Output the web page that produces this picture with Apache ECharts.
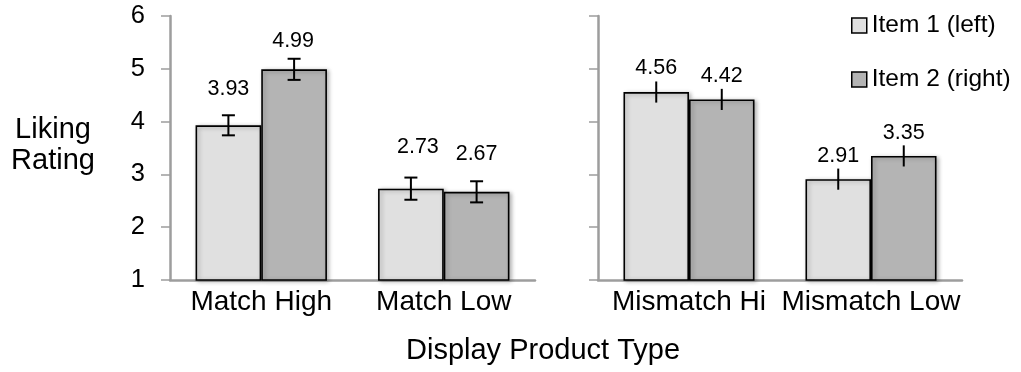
<!DOCTYPE html>
<html>
<head>
<meta charset="utf-8">
<script src="https://cdn.jsdelivr.net/npm/echarts@6/dist/echarts.min.js"></script>
<style>
  html, body { margin: 0; padding: 0; background: #fff; }
  #chart { width: 1021px; height: 372px; }
</style>
</head>
<body>
<div id="chart"></div>
<script>
// Liking ratings by display product type, two items per condition
const leftCategories = ['Match High', 'Match Low'];
const rightCategories = ['Mismatch Hi', 'Mismatch Low'];
const seriesNames = ['Item 1 (left)', 'Item 2 (right)'];

const item1Left = [3.93, 2.73];
const item2Left = [4.99, 2.67];
const item1Right = [4.56, 2.91];
const item2Right = [4.42, 3.35];

// standard errors (± around each mean)
const item1LeftErr = [0.19, 0.21];
const item2LeftErr = [0.20, 0.20];
const item1RightErr = [0.20, 0.20];
const item2RightErr = [0.20, 0.20];

const yMin = 1, yMax = 6, yStep = 1;

// label placement: pixels above the top of each error bar, and horizontal nudge
const labelLift = {
  item1Left: [26, 30], item2Left: [18, 27],
  item1Right: [13, 13], item2Right: [13, 12]
};
const labelNudge = {
  item1Left: [0, 7], item2Left: [-1, 0],
  item1Right: [0, 0], item2Right: [0, 0]
};

const FONT = '"Liberation Sans", Arial, Helvetica, sans-serif';
const AXIS_GRAY = '#9d9d9d';
const LIGHT = '#e0e0e0';
const DARK = '#b4b4b4';
const BAR_FRAC = 0.36;

const chart = echarts.init(document.getElementById('chart'), null, { renderer: 'canvas' });

function barSeries(name, values, panel, color) {
  return {
    name: name,
    type: 'bar',
    xAxisIndex: panel,
    yAxisIndex: panel,
    data: values,
    barWidth: (BAR_FRAC * 100) + '%',
    barGap: '0%',
    itemStyle: {
      color: color,
      borderColor: '#000',
      borderWidth: 1.6,
      shadowColor: 'rgba(0,0,0,0.28)',
      shadowBlur: 4,
      shadowOffsetX: 2,
      shadowOffsetY: 1
    },
    emphasis: { disabled: true },
    animation: false
  };
}

function errorSeries(values, errs, panel, side, key, caps) {
  return {
    type: 'custom',
    xAxisIndex: panel,
    yAxisIndex: panel,
    z: 10,
    silent: true,
    animation: false,
    data: values.map((v, i) => [i, v, errs[i]]),
    renderItem: function (params, api) {
      const idx = api.value(0);
      const val = api.value(1);
      const err = api.value(2);
      const band = api.size([1, 0])[0];
      const barW = band * BAR_FRAC;
      const cx = api.coord([idx, val])[0] + side * barW / 2;
      const top = api.coord([idx, val + err])[1];
      const bot = api.coord([idx, val - err])[1];
      const lineStyle = { stroke: '#000', lineWidth: 2 };
      const children = [
        { type: 'line', shape: { x1: cx, y1: top, x2: cx, y2: bot }, style: lineStyle }
      ];
      if (caps) {
        const cw = 6.5;
        children.push({ type: 'line', shape: { x1: cx - cw, y1: top, x2: cx + cw, y2: top }, style: lineStyle });
        children.push({ type: 'line', shape: { x1: cx - cw, y1: bot, x2: cx + cw, y2: bot }, style: lineStyle });
      }
      children.push({
        type: 'text',
        x: cx + labelNudge[key][params.dataIndex],
        y: top - labelLift[key][params.dataIndex],
        style: {
          text: val.toFixed(2),
          align: 'center',
          verticalAlign: 'middle',
          fontSize: 21.5,
          fontFamily: FONT,
          fill: '#000'
        }
      });
      return { type: 'group', children: children };
    }
  };
}

function xAxisFor(panel, cats) {
  return {
    gridIndex: panel,
    type: 'category',
    data: cats,
    axisTick: { show: false },
    axisLine: { onZero: false, lineStyle: { color: AXIS_GRAY, width: 2.5 } },
    axisLabel: { interval: 0, color: '#000', fontSize: 28, fontFamily: FONT, margin: 8 }
  };
}

function yAxisFor(panel, showLabels) {
  return {
    gridIndex: panel,
    type: 'value',
    min: yMin,
    max: yMax,
    interval: yStep,
    splitLine: { show: false },
    axisLine: { show: true, lineStyle: { color: AXIS_GRAY, width: 2.5 } },
    axisTick: { show: true, length: 9, lineStyle: { color: AXIS_GRAY, width: 1.5 } },
    axisLabel: {
      show: showLabels, color: '#000', fontSize: 25.5, fontFamily: FONT,
      margin: 25, padding: [9, 0, 0, 0]
    }
  };
}

const option = {
  backgroundColor: '#fff',
  animation: false,
  grid: [
    { left: 170, right: 486, top: 16, bottom: 92 },
    { left: 598, right: 59, top: 16, bottom: 92 }
  ],
  xAxis: [xAxisFor(0, leftCategories), xAxisFor(1, rightCategories)],
  yAxis: [yAxisFor(0, true), yAxisFor(1, false)],
  legend: {
    orient: 'vertical',
    left: 851,
    top: 13,
    padding: 0,
    icon: 'rect',
    itemWidth: 15,
    itemHeight: 15,
    itemGap: 29,
    selectedMode: false,
    textStyle: { fontSize: 24.5, fontFamily: FONT, color: '#000' },
    data: [
      { name: seriesNames[0], itemStyle: { color: LIGHT, borderColor: '#000', borderWidth: 1.5, shadowBlur: 0, shadowOffsetX: 0, shadowOffsetY: 0 } },
      { name: seriesNames[1], itemStyle: { color: DARK, borderColor: '#000', borderWidth: 1.5, shadowBlur: 0, shadowOffsetX: 0, shadowOffsetY: 0 } }
    ]
  },
  graphic: [
    {
      type: 'text', x: 53, y: 145,
      style: {
        text: 'Liking\nRating', align: 'center', verticalAlign: 'middle',
        fontSize: 29, lineHeight: 31, fontFamily: FONT, fill: '#000'
      }
    },
    {
      type: 'text', x: 543, y: 351,
      style: {
        text: 'Display Product Type', align: 'center', verticalAlign: 'middle',
        fontSize: 29, fontFamily: FONT, fill: '#000'
      }
    }
  ],
  series: [
    barSeries(seriesNames[0], item1Left, 0, LIGHT),
    barSeries(seriesNames[1], item2Left, 0, DARK),
    barSeries(seriesNames[0], item1Right, 1, LIGHT),
    barSeries(seriesNames[1], item2Right, 1, DARK),
    errorSeries(item1Left, item1LeftErr, 0, -1, 'item1Left', true),
    errorSeries(item2Left, item2LeftErr, 0, 1, 'item2Left', true),
    errorSeries(item1Right, item1RightErr, 1, -1, 'item1Right', false),
    errorSeries(item2Right, item2RightErr, 1, 1, 'item2Right', false)
  ]
};

chart.setOption(option);
</script>
</body>
</html>
